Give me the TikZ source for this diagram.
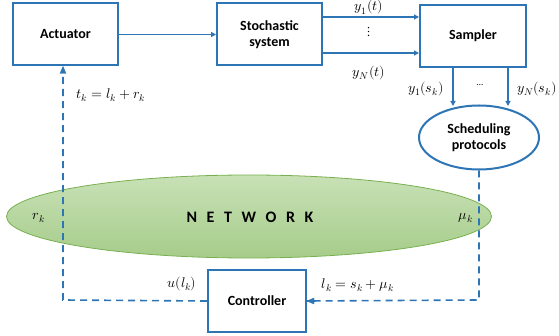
\documentclass[tikz,border=0pt]{standalone}
\usepackage{fontspec}
\setmainfont{Carlito}
\usepackage{unicode-math}
\usetikzlibrary{shapes.geometric,arrows.meta,shadings}
\definecolor{lineblue}{RGB}{46,117,182}
\definecolor{netfillA}{RGB}{200,225,182}
\definecolor{netfillB}{RGB}{166,204,138}
\definecolor{netedge}{RGB}{120,176,80}
\tikzset{
  block/.style={draw=lineblue,line width=2pt,fill=white,font=\bfseries\fontsize{14}{16}\selectfont,align=center,inner sep=0pt},
  flow/.style={draw=lineblue,line width=1.6pt,-{Triangle[length=5pt,width=5pt]}},
  dflow/.style={draw=lineblue,line width=1.6pt,dash pattern=on 7pt off 5pt},
  lbl/.style={font=\fontsize{14}{16}\selectfont,inner sep=0pt}
}
\begin{document}
\begin{tikzpicture}[x=1pt,y=-1pt]
\useasboundingbox (0,0) rectangle (559,336);

% network cloud
\node[ellipse,minimum width=485pt,minimum height=83pt,draw=netedge,line width=0.8pt,
      top color=netfillA,bottom color=netfillB,inner sep=0pt] (net) at (249,216.5) {};
\node[font=\bfseries\fontsize{16}{18}\selectfont,inner sep=0pt] (nettext) at (250,217)
  {N\hspace{0.6em}E\hspace{0.6em}T\hspace{0.6em}W\hspace{0.6em}O\hspace{0.6em}R\hspace{0.6em}K};

% blocks
\node[block,minimum width=105pt,minimum height=62pt] (act) at (65.5,34.5) {Actuator};
\node[block,minimum width=105pt,minimum height=62pt] (sys) at (269.5,34.5) {Stochastic\\system};
\node[block,minimum width=106pt,minimum height=62pt] (samp) at (473,36) {Sampler};
\node[block,ellipse,minimum width=120pt,minimum height=64pt] (sched) at (479,137.5) {Scheduling\\protocols};
\node[block,minimum width=98pt,minimum height=62pt] (ctrl) at (257,301) {Controller};

% forward path
\draw[flow] (act.east) -- (sys.west);
\coordinate (s1) at (sys.east |- 0,17);
\coordinate (sN) at (sys.east |- 0,53);
\draw[flow] (s1) -- (samp.west |- s1);
\draw[flow] (sN) -- (samp.west |- sN);
\node[lbl] (ly1) at (369,7.5) {$y_1(t)$};
\node[lbl] (lyN) at (369,73) {$y_N(t)$};
\node[lbl] (vd) at (369,32) {$\vdots$};

\coordinate (d1) at (453,0);
\coordinate (dN) at (508,0);
\draw[flow] (d1 |- samp.south) -- (d1 |- 0,106);
\draw[flow] (dN |- samp.south) -- (dN |- 0,106);
\node[lbl] (ls1) at (426,89) {$y_1(s_k)$};
\node[lbl] (lsN) at (537,89) {$y_N(s_k)$};
\node[font=\fontsize{9}{10}\selectfont,inner sep=0pt] (hd) at (480,85) {\dots};

% feedback through the network
\coordinate (br) at (479,300);
\coordinate (bl) at (63,300);
\draw[dflow] (sched.south) -- (br) -- (ctrl.east);
\draw[draw=lineblue,fill=lineblue] (ctrl.east) -- ++(7,-3) -- ++(0,6) -- cycle;
\draw[dflow] (ctrl.west) -- (bl) -- (bl |- 0,72);
\draw[draw=lineblue,fill=lineblue] (bl |- act.south) -- ++(-3,7) -- ++(6,0) -- cycle;

\node[lbl] (lt) at (111,95) {$t_k=l_k+r_k$};
\node[lbl] (lr) at (39,218) {$r_k$};
\node[lbl] (lmu) at (466,218) {$\mu_k$};
\node[lbl] (lu) at (182,284) {$u(l_k)$};
\node[lbl] (ll) at (358,285) {$l_k=s_k+\mu_k$};
\end{tikzpicture}
\end{document}
